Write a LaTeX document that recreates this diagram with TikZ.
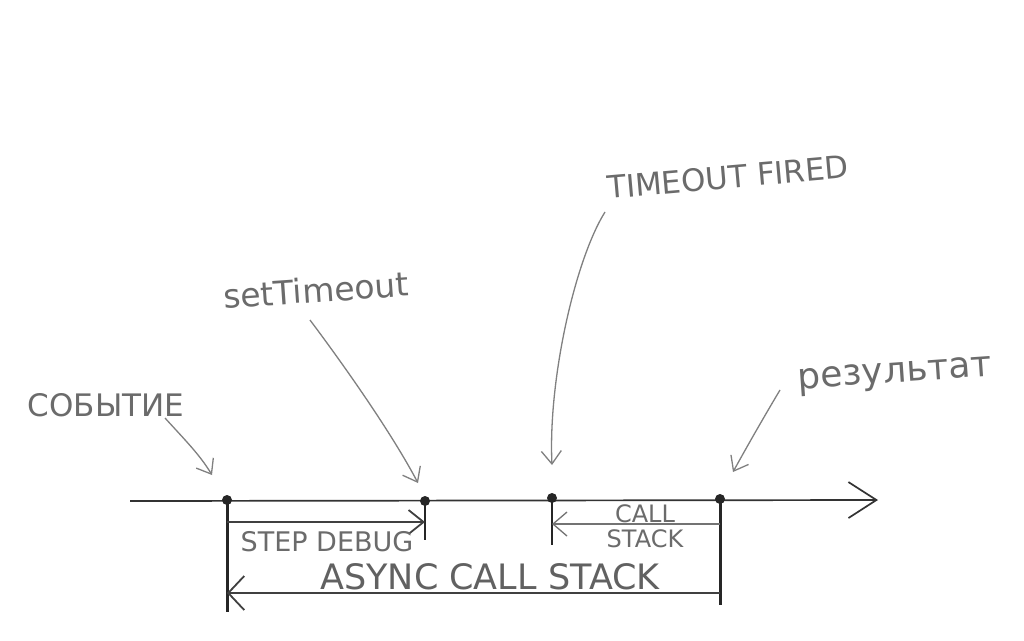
\documentclass[tikz,border=0pt]{standalone}
\usepackage{fontspec}
\setmainfont{DejaVu Sans}
\usetikzlibrary{arrows.meta,calc}
\begin{document}
\begin{tikzpicture}[x=1pt,y=-1pt,
  lbl/.style={text=black!58, inner sep=0pt, font=\fontsize{31}{33}\selectfont},
  lblsmall/.style={text=black!58, inner sep=0pt, font=\fontsize{24}{25}\selectfont, align=center},
  note/.style={draw=black!50, line width=1.3pt, -{Straight Barb[length=13pt,width=20pt,line width=1.3pt]}},
  axis/.style={draw=black!80, line width=1.7pt},
  tickline/.style={draw=black!85, line width=3pt},
  dot/.style={circle, fill=black!85, minimum size=10pt, inner sep=0pt},
  span/.style={draw=black!75, line width=1.8pt}]
\useasboundingbox (0,0) rectangle (1024,640);
\fill[white] (0,0) rectangle (1024,640);

% timeline
\coordinate (a0) at (130,501);
\coordinate (a1) at (878,500);
\draw[axis, -{Straight Barb[length=28pt,width=36pt,line width=1.7pt]}] (a0) -- (a1);

% event points
\node[dot] (e) at (227,500) {};
\node[dot] (s) at (425,501) {};
\node[dot] (f) at (552,498) {};
\node[dot] (r) at (720,499) {};

\coordinate (eb) at (227,612);
\coordinate (sb) at (425,540);
\coordinate (fb) at (552,545);
\coordinate (rb) at (720,605);
\draw[tickline] (e.center) -- (eb);
\draw[tickline, line width=2.5pt] (s.center) -- (sb);
\draw[tickline, line width=2pt] (f.center) -- (fb);
\draw[tickline] (r.center) -- (rb);

% spans
\coordinate (sd0) at (227,522);
\coordinate (sd1) at (425,522);
\draw[span, -{Straight Barb[length=15pt,width=24pt,line width=1.8pt]}] (sd0) -- (sd1);

\coordinate (cs0) at (720,524);
\coordinate (cs1) at (552,524);
\draw[span, draw=black!55, line width=1.3pt, -{Straight Barb[length=14pt,width=24pt,line width=1.3pt]}] (cs0) -- (cs1);

\coordinate (ac0) at (720,593);
\coordinate (ac1) at (227,593);
\draw[span, -{Straight Barb[length=16pt,width=34pt,line width=1.8pt]}] (ac0) -- (ac1);

% span labels
\node[lbl, font=\fontsize{27}{28}\selectfont] (sdl) at (327,542) {STEP DEBUG};
\node[lblsmall] (csl) at (645,526) {CALL\\STACK};
\node[lbl, text=black!62, font=\fontsize{35}{37}\selectfont] (acl) at (490,577) {ASYNC CALL STACK};

% annotations
\node[lbl] (ev) at (106,405) {СОБЫТИЕ};
\node[lbl, font=\fontsize{33}{35}\selectfont, rotate=4] (st) at (316,290) {setTimeout};
\node[lbl, font=\fontsize{31}{33}\selectfont, rotate=5] (tf) at (728,177) {TIMEOUT FIRED};
\node[lbl, font=\fontsize{36}{38}\selectfont, rotate=4] (res) at (895,376) {результат};

\coordinate (evt) at (212,475);
\coordinate (stt) at (418,483);
\coordinate (tft) at (552,465);
\coordinate (rst) at (733,472);

\draw[note] ($(ev.center)+(59,13)$) .. controls (185,440) and (200,455) .. (evt);
\draw[note] ($(st.center)+(-6,30)$) .. controls (340,360) and (390,430) .. (stt);
\draw[note] ($(tf.center)+(-123,35)$) .. controls (575,260) and (548,380) .. (tft);
\draw[note] ($(res.center)+(-115,14)$) .. controls (765,415) and (745,450) .. (rst);
\end{tikzpicture}
\end{document}
